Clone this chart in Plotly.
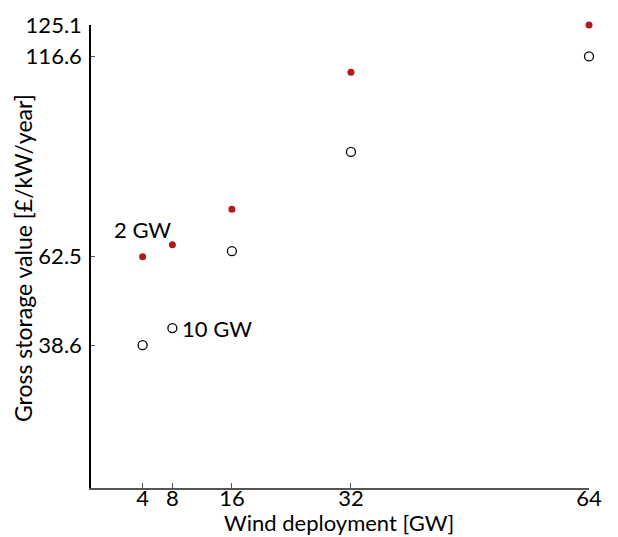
import plotly.graph_objects as go

wind_gw = [4, 8, 16, 32, 64]
storage_2gw = [62.5, 65.7, 75.3, 112.3, 125.1]
storage_10gw = [38.6, 43.2, 64.0, 90.8, 116.6]
y_ticks = [38.6, 62.5, 116.6, 125.1]
x_ticks = [4, 8, 16, 32, 64]

FONT = "Lato"
FS = 22
W, H = 610, 529
ML, MR, MT, MB = 83, 29, 17, 49

fig = go.Figure()
fig.add_trace(go.Scatter(
    x=wind_gw, y=storage_10gw, mode="markers", name="10 GW",
    marker=dict(size=9, color="white", line=dict(color="black", width=1.3)),
    cliponaxis=False, showlegend=False))
fig.add_trace(go.Scatter(
    x=wind_gw, y=storage_2gw, mode="markers", name="2 GW",
    marker=dict(size=7, color="#b01c1c", line=dict(width=0)),
    cliponaxis=False, showlegend=False))

fig.add_annotation(x=wind_gw[0], y=storage_2gw[0], text="2 GW", showarrow=False,
                   xanchor="center", yanchor="middle", yshift=27,
                   font=dict(family=FONT, size=FS, color="black"))
fig.add_annotation(x=wind_gw[1], y=storage_10gw[1], text="10 GW", showarrow=False,
                   xanchor="left", yanchor="middle", xshift=8,
                   font=dict(family=FONT, size=FS, color="black"))

# axis titles
pw = W - ML - MR
ph = H - MT - MB
fig.add_annotation(xref="paper", yref="paper",
                   x=(331 - ML) / pw, y=-(514 - (H - MB)) / ph,
                   text="Wind deployment [GW]", showarrow=False,
                   xanchor="center", yanchor="middle", borderpad=0,
                   font=dict(family=FONT, size=FS, color="black"))
fig.add_annotation(xref="paper", yref="paper",
                   x=-(ML - 15) / pw, y=((H - MB) - 250) / ph,
                   text="Gross storage value [£/kW/year]", showarrow=False, textangle=-90,
                   xanchor="center", yanchor="middle",
                   font=dict(family=FONT, size=23, color="black"))

fig.update_layout(
    width=W, height=H,
    margin=dict(l=ML, r=MR, t=MT, b=MB),
    paper_bgcolor="white", plot_bgcolor="white",
    font=dict(family=FONT, size=FS, color="black"),
    xaxis=dict(range=[-2.94, 64], tickvals=x_ticks, ticktext=[str(v) for v in x_ticks],
               showgrid=False, zeroline=False, showline=True, linecolor="#555555", linewidth=1.5,
               ticks="inside", ticklen=5, tickcolor="#555555", tickwidth=1,
               tickfont=dict(size=FS), ticklabelstandoff=-10, automargin=False),
    yaxis=dict(range=[0, 125.1], tickvals=y_ticks, ticktext=[str(v) for v in y_ticks],
               showgrid=False, zeroline=False, showline=True, linecolor="black", linewidth=1.5,
               ticks="inside", ticklen=4, tickcolor="#555555", tickwidth=1,
               tickfont=dict(size=FS), ticklabelstandoff=3, automargin=False),
)

fig.write_html("out.html")
